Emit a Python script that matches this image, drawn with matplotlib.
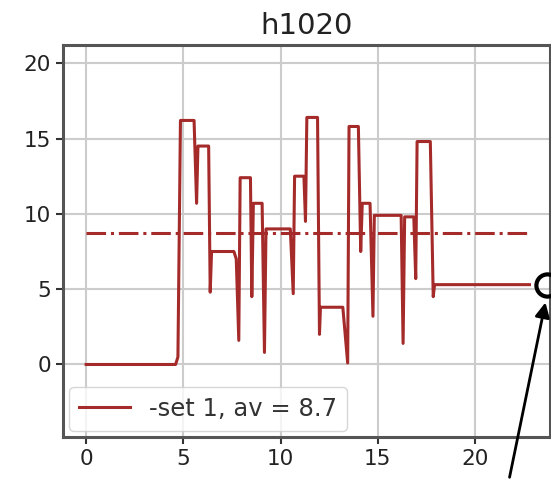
import numpy as np
import matplotlib.pyplot as plt

# breakpoints of the measured trace (time, value)
t_pts = [0, 4.6, 4.72, 4.85, 5.55, 5.68, 5.75, 6.3, 6.38, 6.45, 7.6, 7.72, 7.85, 7.92,
         8.45, 8.52, 8.6, 9.05, 9.17, 9.25, 10.5, 10.65, 10.72, 11.2, 11.28, 11.35, 11.9,
         12.0, 12.05, 13.2, 13.45, 13.52, 14.0, 14.12, 14.2, 14.6, 14.75, 14.82, 16.2,
         16.3, 16.38, 16.85, 16.95, 17.02, 17.7, 17.85, 17.92, 22.8]
h_pts = [0, 0, 0.5, 16.2, 16.2, 10.7, 14.5, 14.5, 4.8, 7.5, 7.5, 7.0, 1.6, 12.4,
         12.4, 4.5, 10.7, 10.7, 0.8, 9.0, 9.0, 4.7, 12.5, 12.5, 9.5, 16.4, 16.4,
         2.0, 3.8, 3.8, 0.1, 15.8, 15.8, 7.5, 10.7, 10.7, 3.2, 9.9, 9.9,
         1.4, 9.8, 9.8, 5.7, 14.8, 14.8, 4.5, 5.3, 5.3]
av = 8.7
label = '-set 1, av = 8.7'
title = 'h1020'

plt.rcParams['font.size'] = 15.5
fig = plt.figure(figsize=(5.51, 4.8), dpi=100)
ax = fig.add_axes([0.114, 0.09, 0.884, 0.816])

col = '#a52a2a'
ax.plot(t_pts, h_pts, color=col, linewidth=2.2, label=label)
ax.plot([t_pts[0], t_pts[-1]], [av, av], color=col, linewidth=2.2, linestyle='-.')

ax.set_xlim(-1.2, 23.85)
ax.set_ylim(-4.8, 21.2)
ax.set_xticks([0, 5, 10, 15, 20])
ax.set_yticks([0, 5, 10, 15, 20])
ax.grid(color='#cccccc', linewidth=1.5)
for s in ax.spines.values():
    s.set_color('#555555')
    s.set_linewidth(2.2)
ax.tick_params(width=1.5, length=5, color='#333333', labelcolor='#222222')
ax.set_title(title, fontsize=21, color='#222222', pad=8)
ax.legend(loc='lower left', fontsize=17.5, handlelength=2.1, framealpha=0.8,
          labelcolor='#333333', borderaxespad=0.25)

# marker for the end of the trace, with pointer from below
ax.plot([23.7], [5.3], marker='o', markersize=16, markerfacecolor='none',
        markeredgecolor='black', markeredgewidth=3, clip_on=False, zorder=10)
ax.annotate('', xy=(23.65, 4.3), xycoords='data',
            xytext=(509 / 551, 0.0), textcoords='figure fraction',
            arrowprops=dict(arrowstyle='-|>', color='black', lw=2,
                            mutation_scale=22), annotation_clip=False, zorder=10)

fig.savefig('out.png', dpi=100)
